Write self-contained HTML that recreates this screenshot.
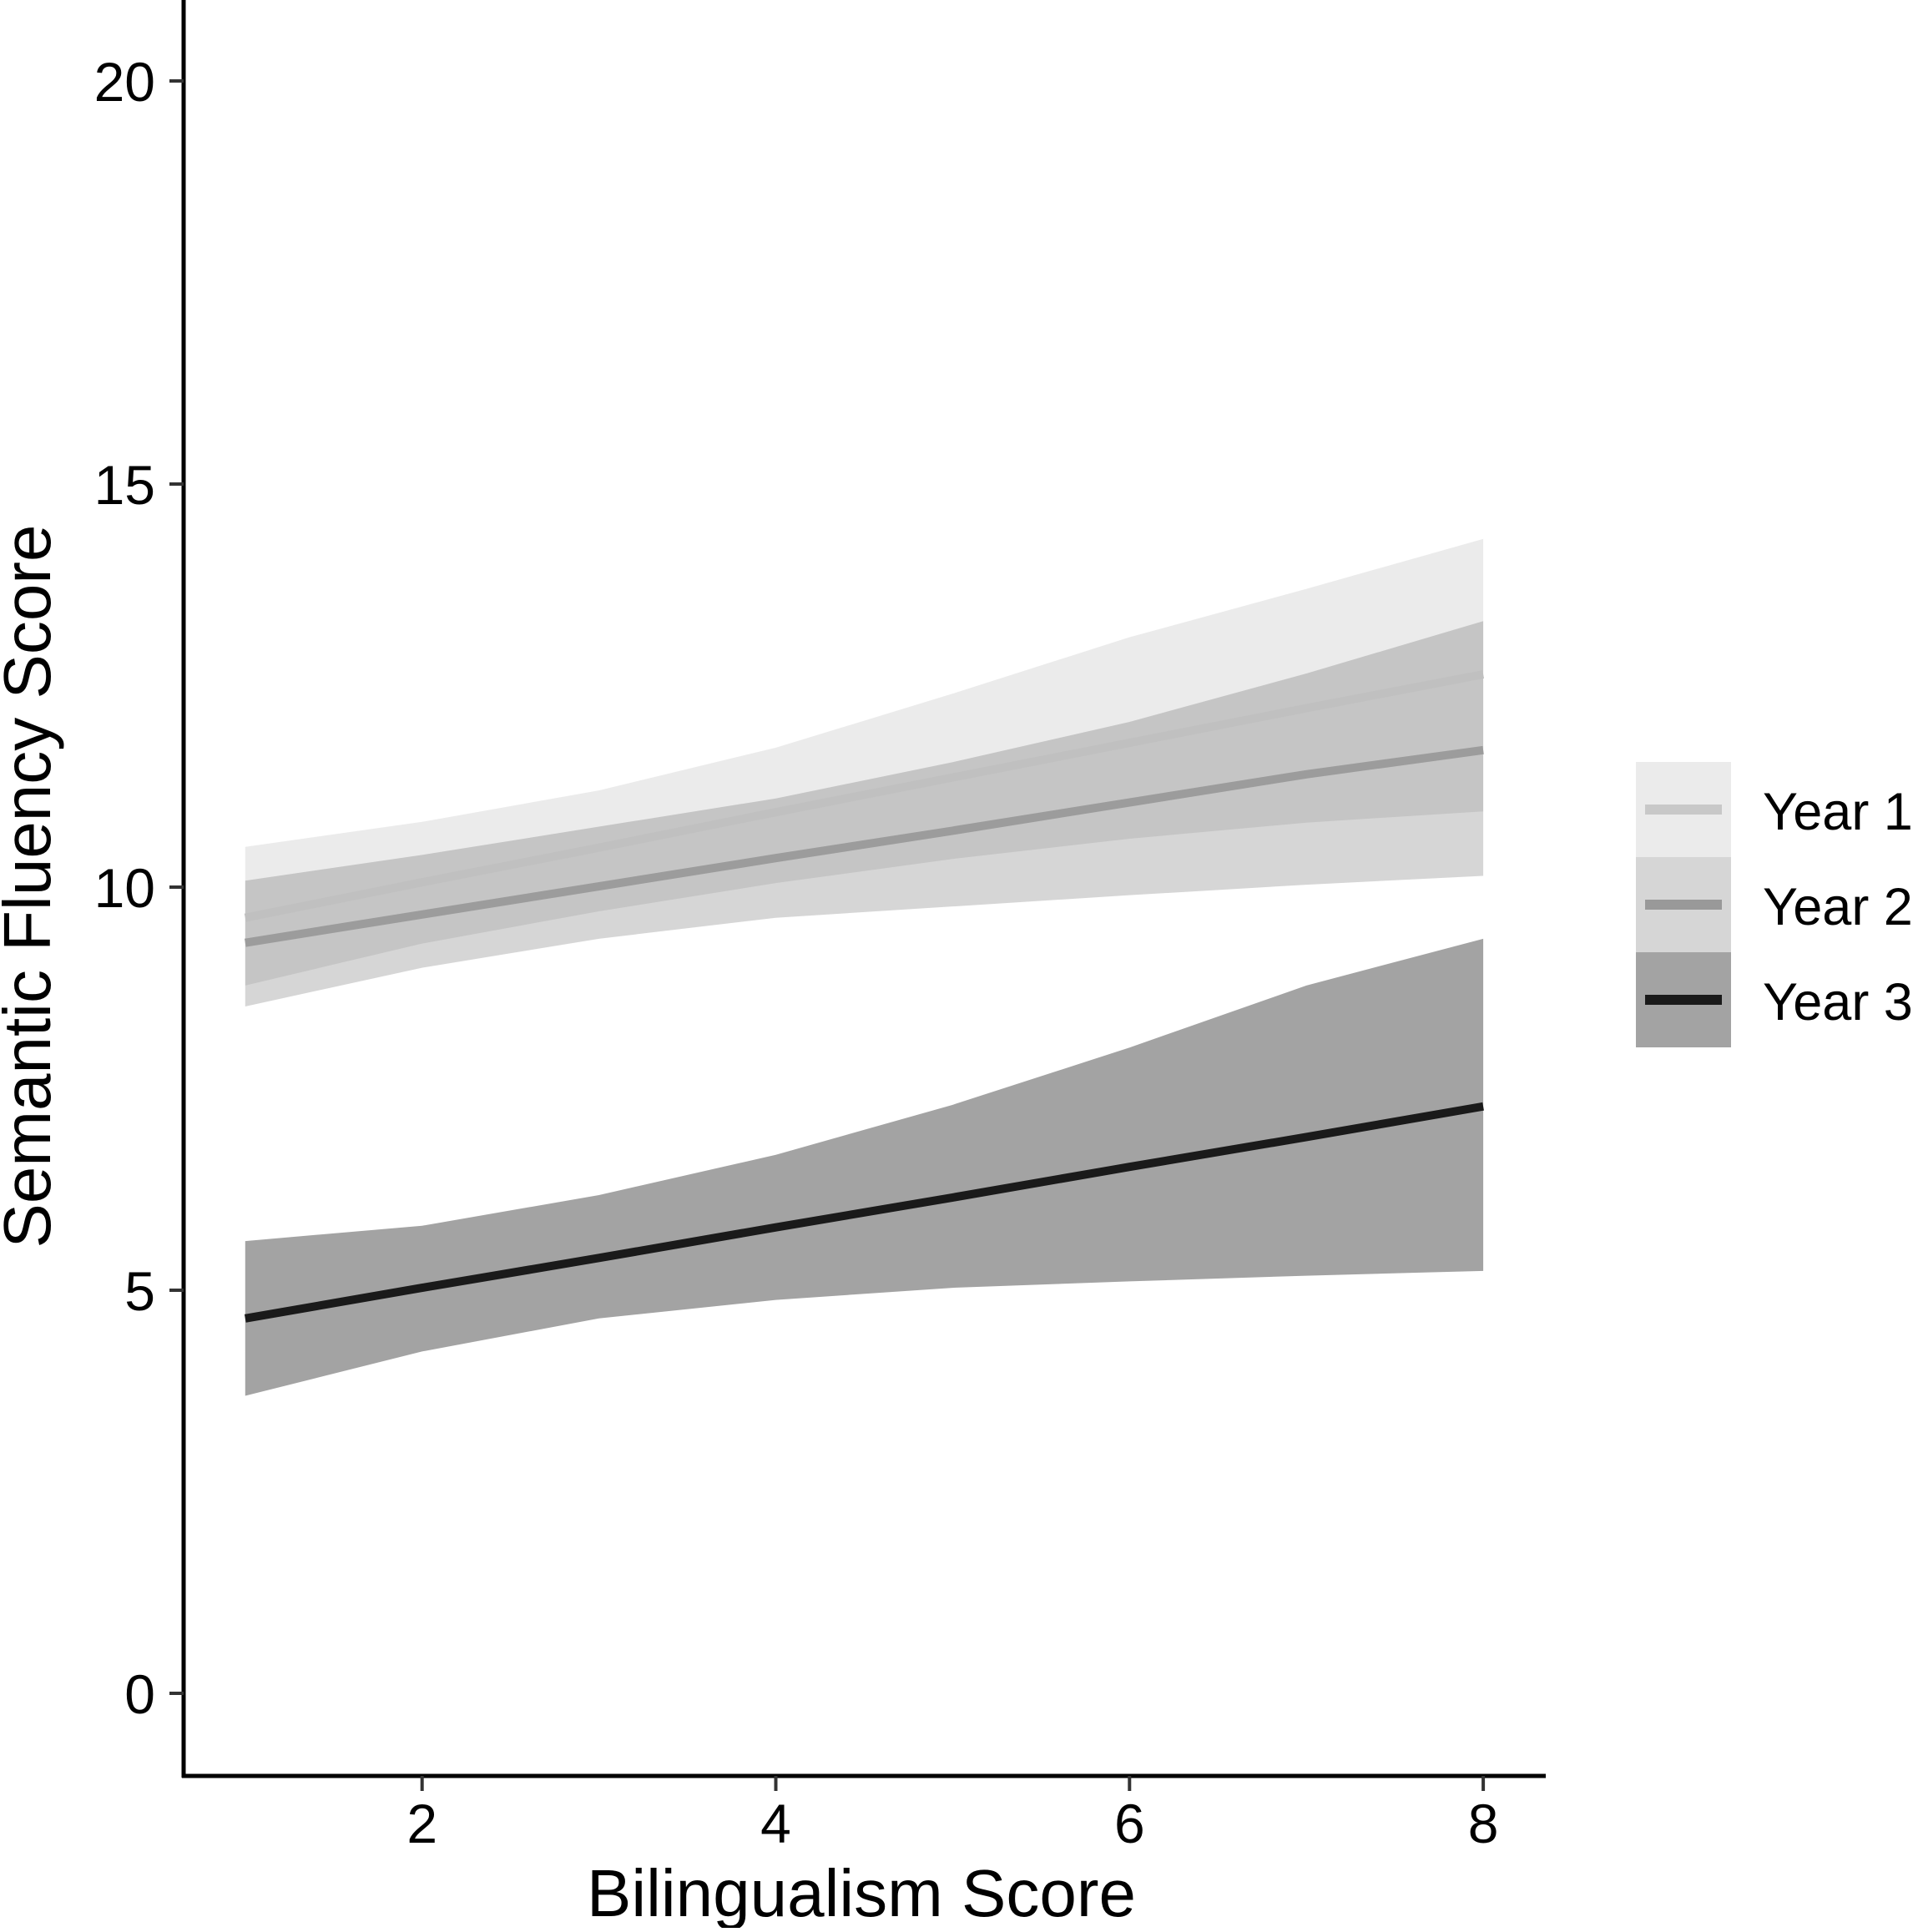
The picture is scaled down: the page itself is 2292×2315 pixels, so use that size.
<!DOCTYPE html>
<html><head><meta charset="utf-8"><style>
html,body{margin:0;padding:0;background:#fff;}
svg text{font-family:"Liberation Sans",Arial,sans-serif;}
</style></head><body>
<svg id="chart" width="2292" height="2310" viewBox="0 0 2292 2310" xmlns="http://www.w3.org/2000/svg">
<g id="bands"></g>
<g id="lines"></g>
<g id="axes"></g>
<g id="legend"></g>
</svg>
<script>
const xs = [1,2,3,4,5,6,7,8];
const year1Line = [9.62,10.06,10.49,10.93,11.36,11.79,12.22,12.64];
const year1Upper = [10.5,10.81,11.2,11.73,12.4,13.1,13.7,14.32];
const year1Lower = [8.78,9.3,9.7,10.05,10.35,10.6,10.8,10.94];
const year2Line = [9.31,9.66,10.01,10.36,10.7,11.05,11.4,11.7];
const year2Upper = [10.08,10.4,10.75,11.1,11.55,12.05,12.65,13.3];
const year2Lower = [8.52,9.0,9.36,9.62,9.76,9.9,10.03,10.14];
const year3Line = [4.65,5.03,5.4,5.78,6.15,6.53,6.9,7.28];
const year3Upper = [5.61,5.8,6.18,6.68,7.3,8.01,8.78,9.36];
const year3Lower = [3.69,4.24,4.65,4.88,5.03,5.11,5.18,5.24];
const xTicks = [2,4,6,8];
const yTicks = [0,5,10,15,20];
const seriesNames = ["Year 1","Year 2","Year 3"];

const NS="http://www.w3.org/2000/svg";
const X = v => 293.8 + (v-1)*211.9;
const Y = v => 2029 - v*96.6;
function mk(tag, parent, attrs){const e=document.createElementNS(NS,tag);for(const k in attrs)e.setAttribute(k,attrs[k]);parent.appendChild(e);return e;}

const bands=document.getElementById('bands'), lines=document.getElementById('lines'), axes=document.getElementById('axes'), legend=document.getElementById('legend');
const series=[
 {name:'year-1',line:year1Line,up:year1Upper,lo:year1Lower,op:0.078,col:'#c0c0c0'},
 {name:'year-2',line:year2Line,up:year2Upper,lo:year2Lower,op:0.16,col:'#9c9c9c'},
 {name:'year-3',line:year3Line,up:year3Upper,lo:year3Lower,op:0.36,col:'#1a1a1a'}
];
series.forEach(s=>{
  let d='M'+xs.map((x,i)=>X(x)+','+Y(s.up[i])).join(' L');
  d+=' L'+xs.slice().reverse().map((x,j)=>{const i=xs.length-1-j;return X(x)+','+Y(s.lo[i]);}).join(' L')+' Z';
  const p=mk('path',bands,{d:d,fill:'#000','fill-opacity':s.op});
  
  
});
series.forEach(s=>{
  const l=mk('polyline',lines,{points:xs.map((x,i)=>X(x)+','+Y(s.line[i])).join(' '),fill:'none',stroke:s.col,'stroke-width':10});
  
  
});
const ya=mk('line',axes,{x1:220,y1:0,x2:220,y2:2130,stroke:'#000','stroke-width':5});


const xa=mk('line',axes,{x1:218,y1:2128,x2:1852,y2:2128,stroke:'#000','stroke-width':5});


yTicks.forEach(v=>{
  const t=mk('line',axes,{x1:203,y1:Y(v),x2:220,y2:Y(v),stroke:'#333','stroke-width':4});
  
  
  const tx=mk('text',axes,{x:186,y:Y(v)+24,'text-anchor':'end','font-size':66,fill:'#000'});
  tx.textContent=v;
  
  
});
xTicks.forEach(v=>{
  const t=mk('line',axes,{x1:X(v),y1:2128,x2:X(v),y2:2146,stroke:'#333','stroke-width':4});
  
  
  const tx=mk('text',axes,{x:X(v),y:2208,'text-anchor':'middle','font-size':66,fill:'#000'});
  tx.textContent=v;
  
  
});
const xt=mk('text',axes,{x:1032,y:2296,'text-anchor':'middle','font-size':80,fill:'#000'});
xt.textContent='Bilingualism Score';


const yt=mk('text',axes,{x:0,y:0,'text-anchor':'middle','font-size':80,fill:'#000',transform:'translate(60,1062) rotate(-90)'});
yt.textContent='Semantic Fluency Score';


const keyFill=['#ebebeb','#d6d6d6','#a3a3a3'];
const keyLine=['#c8c8c8','#999999','#1a1a1a'];
seriesNames.forEach((n,i)=>{
  const g=mk('g',legend,{});
  
  
  const y0=913+i*114;
  mk('rect',g,{x:1960,y:y0,width:114,height:114,fill:keyFill[i]});
  mk('rect',g,{x:1971,y:y0+51,width:92,height:12,fill:keyLine[i]});
  const t=mk('text',g,{x:2112,y:y0+81,'font-size':63,fill:'#000'});
  t.textContent=n;
});
</script>
</body></html>
